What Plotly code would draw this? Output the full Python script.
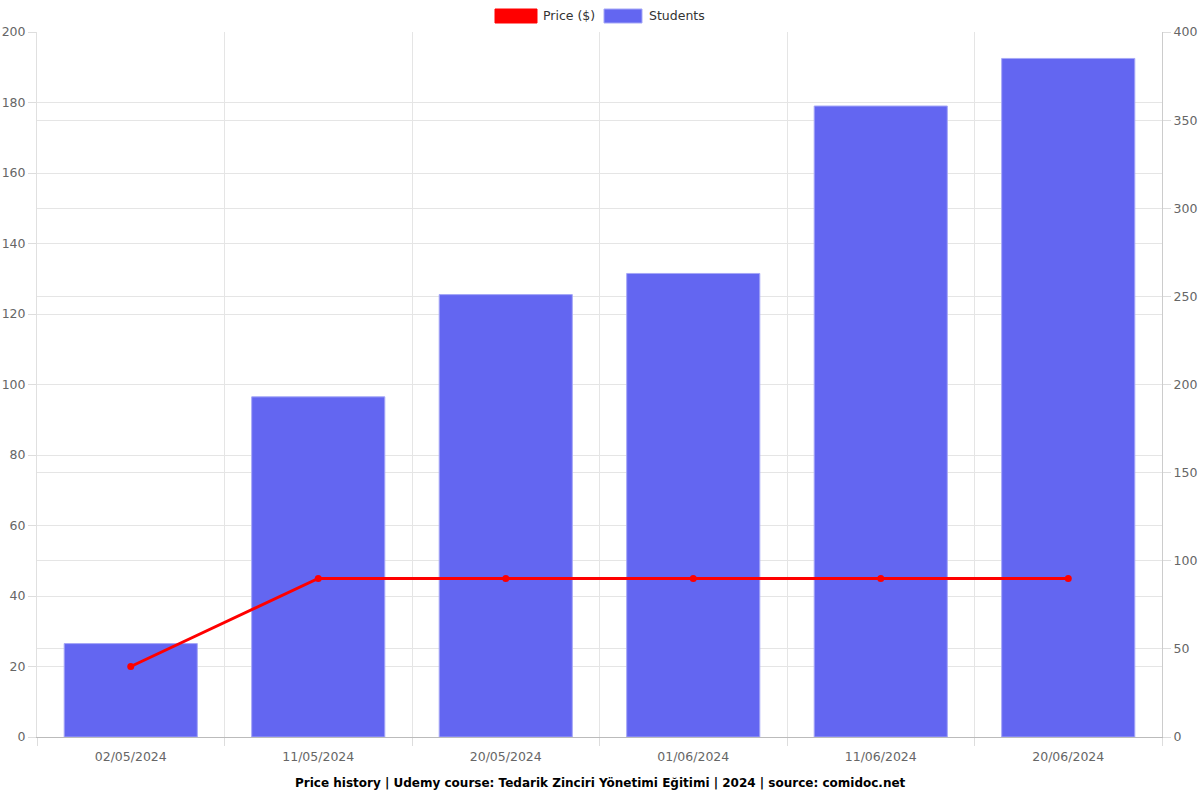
import plotly.graph_objects as go

dates = ["02/05/2024", "11/05/2024", "20/05/2024", "01/06/2024", "11/06/2024", "20/06/2024"]
price = [20, 45, 45, 45, 45, 45]
students = [53, 193, 251, 263, 358, 385]

W, H = 1200, 800
L, R, T, B = 37, 38, 32, 63
pw, ph = W - L - R, H - T - B

def px(x):
    return (x - L) / pw

def py(y):
    return (H - B - y) / ph

fig = go.Figure()
fig.add_trace(go.Bar(
    x=dates, y=students, name="Students", yaxis="y",
    marker=dict(color="#6366F1", line=dict(color="#A5A7F7", width=1)),
    width=0.71, showlegend=False,
))
fig.add_trace(go.Scatter(
    x=dates, y=price, name="Price ($)", yaxis="y2", mode="lines+markers",
    line=dict(color="#FF0000", width=3), marker=dict(color="#FF0000", size=7),
    showlegend=False,
))

tickfont = dict(family="DejaVu Sans", size=12.5, color="#666666")
fig.update_layout(
    width=W, height=H,
    margin=dict(l=L, r=R, t=T, b=B, autoexpand=False),
    plot_bgcolor="white", paper_bgcolor="white",
    font=dict(family="DejaVu Sans"),
    xaxis=dict(
        type="category", tickson="boundaries", showgrid=True, gridcolor="#E5E5E5",
        ticks="outside", ticklen=8, tickcolor="#DDDDDD", tickfont=tickfont,
        showline=True, linecolor="#BBBBBB", zeroline=False, automargin=False,
        ticklabelstandoff=8,
    ),
    yaxis=dict(
        side="right", range=[0, 400], dtick=50, showgrid=True, gridcolor="#E5E5E5",
        ticks="outside", ticklen=8, tickcolor="#DDDDDD", tickfont=tickfont,
        showline=True, linecolor="#CCCCCC", zeroline=False, automargin=False,
    ),
    yaxis2=dict(
        overlaying="y", side="left", range=[0, 200], dtick=20, showgrid=True,
        gridcolor="#E5E5E5", ticks="outside", ticklen=8, tickcolor="#DDDDDD",
        tickfont=tickfont, showline=True, linecolor="#E0E0E0", zeroline=False,
        automargin=False,
    ),
    showlegend=False,
)

# Legend drawn manually
shapes = [
    dict(type="rect", xref="paper", yref="paper", x0=px(495), x1=px(537), y0=py(23), y1=py(9),
         fillcolor="#FF0000", line=dict(color="#FF0000", width=1)),
    dict(type="rect", xref="paper", yref="paper", x0=px(604), x1=px(642), y0=py(23), y1=py(9),
         fillcolor="#6366F1", line=dict(color="#A5A7F7", width=1)),
]
annotations = [
    dict(text="Price ($)", xref="paper", yref="paper", x=px(541), y=py(16), xanchor="left",
         yanchor="middle", showarrow=False, font=dict(family="DejaVu Sans", size=12.5, color="#333333")),
    dict(text="Students", xref="paper", yref="paper", x=px(647), y=py(16), xanchor="left",
         yanchor="middle", showarrow=False, font=dict(family="DejaVu Sans", size=12.5, color="#333333")),
    dict(text="<b>Price history | Udemy course: Tedarik Zinciri Yönetimi Eğitimi | 2024 | source: comidoc.net</b>",
         xref="paper", yref="paper", x=px(600), y=py(783), xanchor="center", yanchor="middle",
         showarrow=False, font=dict(family="DejaVu Sans", size=12, color="#000000")),
]
fig.update_layout(shapes=shapes, annotations=annotations)

fig.write_html("out.html")
